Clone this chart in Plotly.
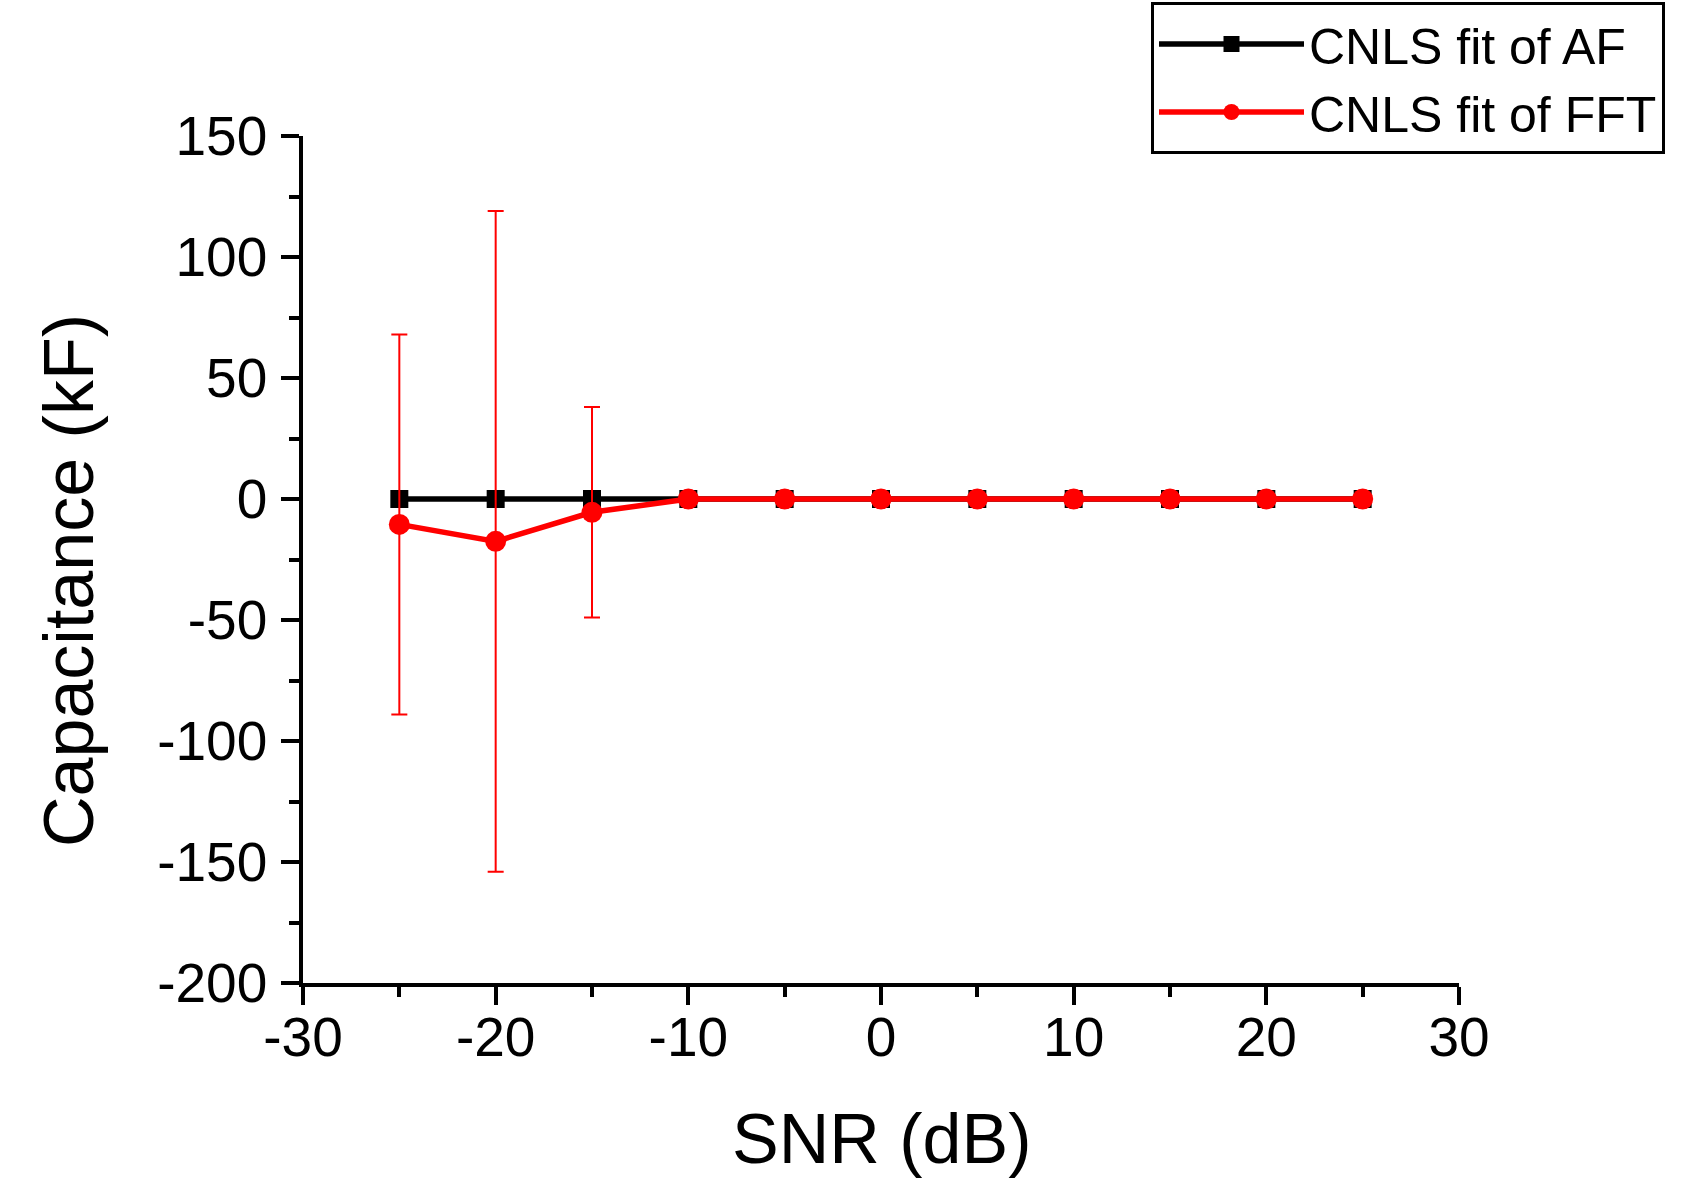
import plotly.graph_objects as go

snr = [-25, -20, -15, -10, -5, 0, 5, 10, 15, 20, 25]
cap_af = [0, 0, 0, 0, 0, 0, 0, 0, 0, 0, 0]
cap_fft = [-10.5, -17.5, -5.5, 0, 0, 0, 0, 0, 0, 0, 0]
err_fft = [78.5, 136.5, 43.5, 0, 0, 0, 0, 0, 0, 0, 0]

x_ticks = [-30, -20, -10, 0, 10, 20, 30]
y_ticks = [-200, -150, -100, -50, 0, 50, 100, 150]

FONT = "Liberation Sans, Arial, sans-serif"

fig = go.Figure()
fig.add_trace(go.Scatter(
    x=snr, y=cap_af, mode="lines+markers", name="CNLS fit of AF",
    line=dict(color="black", width=5.5),
    marker=dict(symbol="square", size=18, color="black"),
))
fig.add_trace(go.Scatter(
    x=snr, y=cap_fft, mode="lines+markers", name="CNLS fit of FFT",
    line=dict(color="#ff0000", width=5.5),
    marker=dict(symbol="circle", size=21, color="#ff0000"),
    error_y=dict(type="data", array=err_fft, visible=True,
                 color="#ff0000", thickness=2, width=8),
))

axis_common = dict(
    showgrid=False, zeroline=False, showline=True, linecolor="black",
    linewidth=3.5, ticks="outside", tickcolor="black", tickwidth=3.5,
    ticklen=18, tickfont=dict(family=FONT, size=55, color="black"),
    mirror=False, automargin=False,
)

fig.update_xaxes(
    range=[-30, 30], tickvals=x_ticks, ticktext=[str(v) for v in x_ticks],
    minor=dict(dtick=5, ticks="outside", ticklen=10, tickwidth=3.5, tickcolor="black"),
    ticklabelstandoff=-15,
    **axis_common,
)
fig.update_yaxes(
    range=[-200, 150], tickvals=y_ticks, ticktext=[str(v) for v in y_ticks],
    minor=dict(dtick=25, ticks="outside", ticklen=10, tickwidth=3.5, tickcolor="black"),
    ticklabelstandoff=3,
    **axis_common,
)

fig.add_annotation(
    text="Capacitance (kF)", xref="paper", yref="paper",
    x=-0.203, y=0.475, textangle=-90, showarrow=False,
    xanchor="center", yanchor="middle",
    font=dict(family=FONT, size=70, color="black"),
)
fig.add_annotation(
    text="SNR (dB)", xref="paper", yref="paper",
    x=0.5, y=-0.184, showarrow=False,
    xanchor="center", yanchor="middle",
    font=dict(family=FONT, size=70, color="black"),
)

fig.update_layout(
    width=1695, height=1179,
    margin=dict(l=303, r=236, t=136, b=196, autoexpand=False),
    paper_bgcolor="white", plot_bgcolor="white",
    showlegend=True,
    legend=dict(
        xref="container", yref="container",
        x=1151 / 1695, y=1 - 2 / 1179, xanchor="left", yanchor="top",
        bordercolor="black", borderwidth=3, bgcolor="white",
        font=dict(family=FONT, size=50, color="black"),
        itemwidth=145, tracegroupgap=0,
    ),
)

fig.write_html(
    "out.html",
    config={"displayModeBar": False},
    post_script="document.body.style.margin='0';document.body.style.overflow='hidden';",
)
